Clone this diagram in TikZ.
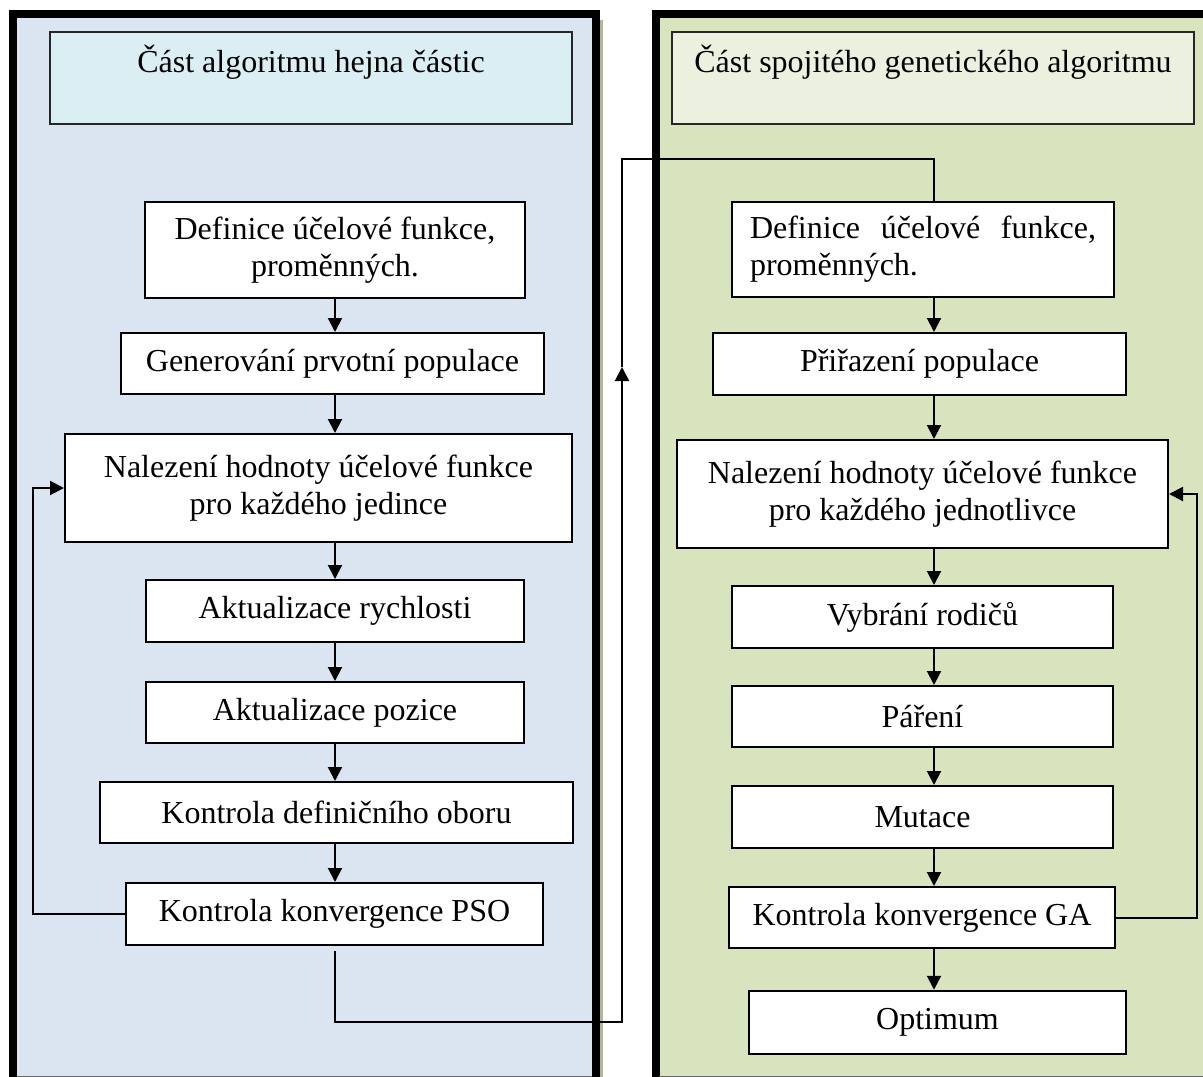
\documentclass[tikz,border=0pt]{standalone}
\usepackage{fontspec}
\setmainfont{Liberation Serif}
\usetikzlibrary{arrows.meta}
\definecolor{lpanel}{HTML}{DBE5F1}
\definecolor{lhead}{HTML}{DAEEF3}
\definecolor{rpanel}{HTML}{D7E4BD}
\definecolor{rhead}{HTML}{EBF1DE}
\definecolor{shadowc}{HTML}{AEB898}
\begin{document}
\begin{tikzpicture}[x=1pt,y=-1pt,
  box/.style={draw=black, line width=2pt, fill=white, font=\fontsize{32}{37}\selectfont, align=center, inner sep=0pt},
  headbox/.style={draw=black!85, line width=1.5pt, inner sep=0pt},
  headtext/.style={font=\fontsize{32}{37}\selectfont, inner sep=0pt},
  conn/.style={line width=2pt},
  arr/.style={line width=2pt, -{Triangle[width=14pt,length=14pt]}},
  panelline/.style={line width=8pt, line join=miter}
]
\useasboundingbox (0,0) rectangle (1203,1077);
\begin{scope}
\clip (0,0) rectangle (1203,1077);
% left panel
\fill[shadowc] (596,20) rectangle (603,1080);
\fill[lpanel] (13,14) rectangle (596,1076);
\draw[panelline] (13,1080) -- (13,14) -- (596,14) -- (596,1080);
\draw[black!60, line width=1pt] (17,1076) -- (592,1076);
% right panel
\fill[rpanel] (655.5,14) rectangle (1210,1076);
\draw[panelline] (655.5,1080) -- (655.5,14) -- (1210,14);
\draw[black!60, line width=1pt] (659,1076) -- (1210,1076);
\end{scope}

% headers
\node[headbox, fill=lhead, minimum width=522, minimum height=92] (hL) at (311,78) {};
\node[headtext] (hLt) at (311,62) {Část algoritmu hejna částic};
\node[headbox, fill=rhead, minimum width=522, minimum height=92] (hR) at (933,78) {};
\node[headtext] (hRt) at (933,62) {Část spojitého genetického algoritmu};

% left column
\node[box, minimum width=380, minimum height=96] (dL) at (335,250) {Definice účelové funkce,\\ proměnných.};
\node[box, minimum width=423, minimum height=61] (gL) at (332.5,363.5) {Generování prvotní populace};
\node[box, minimum width=507, minimum height=108] (nL) at (318.5,488) {Nalezení hodnoty účelové funkce\\ pro každého jedince};
\node[box, minimum width=378, minimum height=62] (arL) at (335,611) {Aktualizace rychlosti};
\node[box, minimum width=378, minimum height=61] (apL) at (335,712.5) {Aktualizace pozice};
\node[box, minimum width=473, minimum height=61] (kdL) at (336.5,812.5) {Kontrola definičního oboru};
\node[box, minimum width=417, minimum height=62] (kpL) at (334.5,914) {Kontrola konvergence PSO};

% right column
\node[box, minimum width=382, minimum height=95, align=left] (dR) at (923,249.5) {\makebox[346pt][s]{Definice\hfill účelové\hfill funkce,}\\ proměnných.\hfill\null};
\node[box, minimum width=413, minimum height=62] (pR) at (919.5,364) {Přiřazení populace};
\node[box, minimum width=491, minimum height=108] (nR) at (922.5,494) {Nalezení hodnoty účelové funkce\\ pro každého jednotlivce};
\node[box, minimum width=381, minimum height=62] (vR) at (922.5,617) {Vybrání rodičů};
\node[box, minimum width=381, minimum height=61] (paR) at (922.5,716.5) {Páření};
\node[box, minimum width=381, minimum height=62] (mR) at (922.5,817) {Mutace};
\node[box, minimum width=386, minimum height=61] (kgR) at (922,917.5) {Kontrola konvergence GA};
\node[box, line width=2.5pt, minimum width=377, minimum height=63] (oR) at (937.5,1022.5) {Optimum};

% column guide coordinates
\coordinate (colL) at (335,0);
\coordinate (colR) at (934,0);
\coordinate (fbL) at (33,0);
\coordinate (fbR) at (1197,0);
\coordinate (bend1) at (622,1022);
\coordinate (tip) at (622,367);
\coordinate (bend2) at (622,159);
\coordinate (kpBot) at (335,951);

% left arrows
\draw[arr] (dL.south -| colL) -- (gL.north -| colL);
\draw[arr] (gL.south -| colL) -- (nL.north -| colL);
\draw[arr] (nL.south -| colL) -- (arL.north -| colL);
\draw[arr] (arL.south -| colL) -- (apL.north -| colL);
\draw[arr] (apL.south -| colL) -- (kdL.north -| colL);
\draw[arr] (kdL.south -| colL) -- (kpL.north -| colL);
\draw[arr] (kpL.west) -- (kpL.west -| fbL) |- (nL.west);

% right arrows
\draw[arr] (dR.south -| colR) -- (pR.north -| colR);
\draw[arr] (pR.south -| colR) -- (nR.north -| colR);
\draw[arr] (nR.south -| colR) -- (vR.north -| colR);
\draw[arr] (vR.south -| colR) -- (paR.north -| colR);
\draw[arr] (paR.south -| colR) -- (mR.north -| colR);
\draw[arr] (mR.south -| colR) -- (kgR.north -| colR);
\draw[arr] (kgR.south -| colR) -- (oR.north -| colR);
\draw[arr] (kgR.east) -- (kgR.east -| fbR) |- (nR.east);

% link between panels
\draw[arr] (kpBot) |- (bend1) -- (tip);
\draw[conn] (tip) -- (bend2) -| (dR.north -| colR);
\end{tikzpicture}
\end{document}
